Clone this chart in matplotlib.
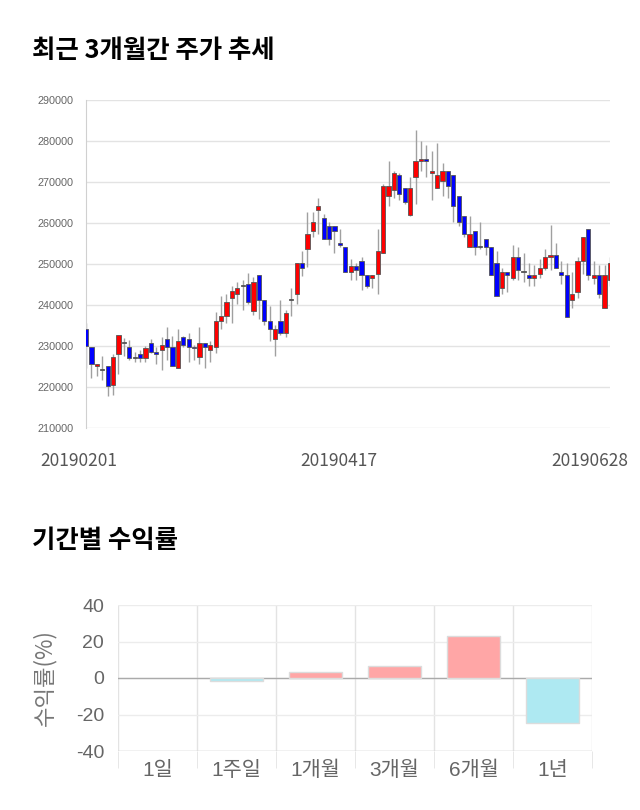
import numpy as np
import matplotlib.pyplot as plt
import matplotlib.transforms as mtransforms

plt.rcParams['font.family'] = ['Liberation Sans', 'Noto Sans CJK KR', 'DejaVu Sans']

# daily candles, 20190201 .. 20190628
opens = [234200, 229700, 225100, 224150, 225200, 220600, 228100, 230650, 229700, 227150,
         228050, 227100, 230700, 228600, 229100, 231700, 229700, 224600, 232200, 231700,
         229850, 227200, 230700, 229100, 229700, 236100, 237200, 241600, 242700, 244650,
         245200, 238600, 247200, 241100, 236100, 231600, 236200, 233200, 241150, 242700,
         250200, 253700, 258100, 263200, 261100, 259200, 259200, 255200, 254200, 248100,
         249600, 250700, 247200, 246600, 247600, 252700, 266500, 268100, 271600, 268600,
         262000, 271100, 275100, 275600, 272100, 268600, 270200, 272600, 271600, 266700,
         261600, 254200, 258100, 254150, 256200, 254200, 250200, 244200, 248100, 246600,
         251600, 248150, 247200, 246600, 247600, 249100, 251600, 252100, 248100, 247200,
         241100, 243200, 250700, 258600, 246600, 247200, 239200, 246200]
highs = [235600, 229700, 225700, 227600, 225200, 228100, 232700, 231950, 231500, 228500,
         229100, 229900, 231700, 229700, 232100, 234700, 232500, 234200, 232500, 233200,
         230200, 234600, 230700, 231100, 238200, 242100, 242600, 244700, 245700, 246200,
         247700, 246800, 247200, 241100, 239700, 235100, 241100, 238700, 244200, 250200,
         253200, 262600, 262700, 266200, 262200, 260200, 259200, 258600, 254200, 251100,
         250200, 251600, 247200, 247200, 258600, 269600, 275100, 272600, 272100, 268600,
         271100, 282600, 280100, 279100, 277600, 279600, 274600, 272600, 271600, 266700,
         261600, 261600, 258100, 260200, 256200, 254200, 253200, 249100, 248100, 254600,
         254200, 252700, 250200, 249700, 251100, 253700, 259600, 255100, 250700, 250200,
         248100, 251600, 256700, 258600, 250700, 249700, 249700, 251600]
lows = [224600, 222200, 222600, 221800, 217700, 218100, 223200, 227500, 226500, 226000,
        226000, 226000, 228300, 225700, 224200, 226700, 225100, 224600, 229700, 226100,
        226700, 225700, 224600, 226200, 228300, 234200, 235600, 235600, 240200, 238700,
        240200, 237600, 236600, 235100, 231100, 227600, 232700, 232200, 237200, 240200,
        247000, 249200, 256700, 257200, 256200, 254600, 252700, 254200, 248100, 246200,
        246200, 243700, 244200, 244200, 242700, 252700, 264100, 266100, 265500, 264600,
        261600, 264600, 272600, 271100, 265600, 268600, 266700, 266100, 260200, 259200,
        256700, 254200, 252200, 253700, 252200, 247200, 242100, 242700, 243200, 246200,
        246200, 245600, 244600, 244600, 246600, 248600, 248600, 249100, 245100, 237100,
        239200, 241600, 247600, 246200, 245100, 241600, 239200, 244600]
closes = [230100, 225600, 225700, 224150, 220200, 227200, 232700, 230650, 227100, 227150,
          227100, 229600, 228600, 228050, 230200, 229700, 225100, 231200, 230200, 229700,
          229500, 230700, 229700, 230200, 236200, 237200, 240700, 243300, 244200, 244650,
          240700, 245700, 241100, 236100, 234200, 234200, 233200, 238100, 241150, 250200,
          249100, 257200, 260200, 264200, 256200, 256200, 258100, 254600, 248100, 249600,
          248600, 247200, 244600, 247200, 253200, 269100, 269100, 272100, 267100, 265000,
          268600, 275100, 275600, 275100, 272600, 271600, 272600, 269100, 264200, 260200,
          257200, 257200, 254200, 254150, 254200, 247200, 242100, 248100, 247200, 251600,
          248600, 248150, 246600, 247200, 249100, 251600, 252100, 249100, 247200, 237100,
          242700, 250700, 256700, 247200, 247200, 242700, 247200, 250200]
date_labels = ['20190201', '20190417', '20190628']
date_label_pos = [-1.3, 46.8, 93.3]
price_ticks = list(range(210000, 290001, 10000))

periods = ['1일', '1주일', '1개월', '3개월', '6개월', '1년']
returns = [0.0, -1.7, 3.1, 6.6, 22.8, -24.6]

fig = plt.figure(figsize=(6.4, 8.1), dpi=100)

fig.text(32 / 640, 1 - 50 / 810, '최근 3개월간 주가 추세', fontsize=18.3, fontweight='bold',
         va='center', ha='left', family=['Noto Sans CJK KR'])
fig.text(32 / 640, 1 - 541 / 810, '기간별 수익률', fontsize=18.3, fontweight='bold',
         va='center', ha='left', family=['Noto Sans CJK KR'])

# ---- candlestick chart
ax = fig.add_axes([86 / 640, 1 - 428 / 810, 524 / 640, 328 / 810])
o = np.array(opens)
h = np.array(highs)
l = np.array(lows)
c = np.array(closes)
x = np.arange(len(o))
col = np.where(c > o, '#ff0000', np.where(c < o, '#0000ff', '#555555'))
ax.vlines(x, l, h, color='#a0a0a0', linewidth=1, zorder=2)
body = np.maximum(np.abs(c - o), 250)
ax.bar(x, body, bottom=np.minimum(o, c), width=0.78, color=col,
       edgecolor='#555555', linewidth=0.6, zorder=3)

ax.set_xlim(0, len(o) - 1)
ax.set_ylim(210000, 290000)
ax.set_yticks(price_ticks)
ax.set_yticklabels([str(v) for v in price_ticks], fontsize=7.8, color='#666666')
ax.set_xticks([])
trans = mtransforms.blended_transform_factory(ax.transData, ax.transAxes)
for pos, lab in zip(date_label_pos, date_labels):
    ax.text(pos, -0.1006, lab, transform=trans, ha='center', va='center',
            fontsize=12.5, color='#555555', family=['Noto Sans CJK KR'], clip_on=False)
ax.tick_params(axis='both', length=0)
ax.tick_params(axis='y', pad=9)
ax.grid(axis='y', color='#e3e3e3', linewidth=1)
ax.set_axisbelow(True)
for s in ['top', 'right', 'bottom']:
    ax.spines[s].set_visible(False)
ax.spines['left'].set_color('#d0d0d0')

# ---- returns chart
bx = fig.add_axes([118 / 640, 1 - 751 / 810, 474 / 640, 146 / 810])
r = np.array(returns)
bcol = np.where(r >= 0, '#ffa6a6', '#aee9f2')
ecol = ['none' if v == 0 else '#dcdcdc' for v in returns]
bx.bar(np.arange(len(periods)), r, width=0.68, color=bcol, edgecolor=ecol,
       linewidth=1, zorder=3)
bx.set_xlim(-0.5, len(periods) - 0.5)
bx.set_ylim(-40, 40)
bx.set_yticks([-40, -20, 0, 20, 40])
bx.set_yticklabels(['-40', '-20', '0', '20', '40'], fontsize=14, color='#666666')
bx.set_xticks(np.arange(len(periods)))
bx.set_xticklabels(periods, fontsize=15, color='#666666')
bx.set_xticks(np.arange(-0.5, len(periods)), minor=True)
bx.tick_params(axis='x', which='major', length=0, pad=7)
bx.tick_params(axis='x', which='minor', length=12, color='#e3e3e3')
bx.tick_params(axis='y', length=0, pad=10)
bx.grid(axis='y', color='#ececec', linewidth=1)
bx.grid(axis='x', which='minor', color='#e3e3e3', linewidth=1)
bx.axhline(0, color='#aaaaaa', linewidth=1, zorder=2)
bx.axhline(-40, color='#cccccc', linewidth=1, zorder=2)
bx.set_axisbelow(True)
for s in ['top', 'right', 'bottom', 'left']:
    bx.spines[s].set_visible(False)
bx.set_ylabel('수익률(%)', fontsize=16, color='#777777', labelpad=14,
              family=['Noto Sans CJK KR'], fontweight='light')

fig.savefig('out.png', dpi=100)
